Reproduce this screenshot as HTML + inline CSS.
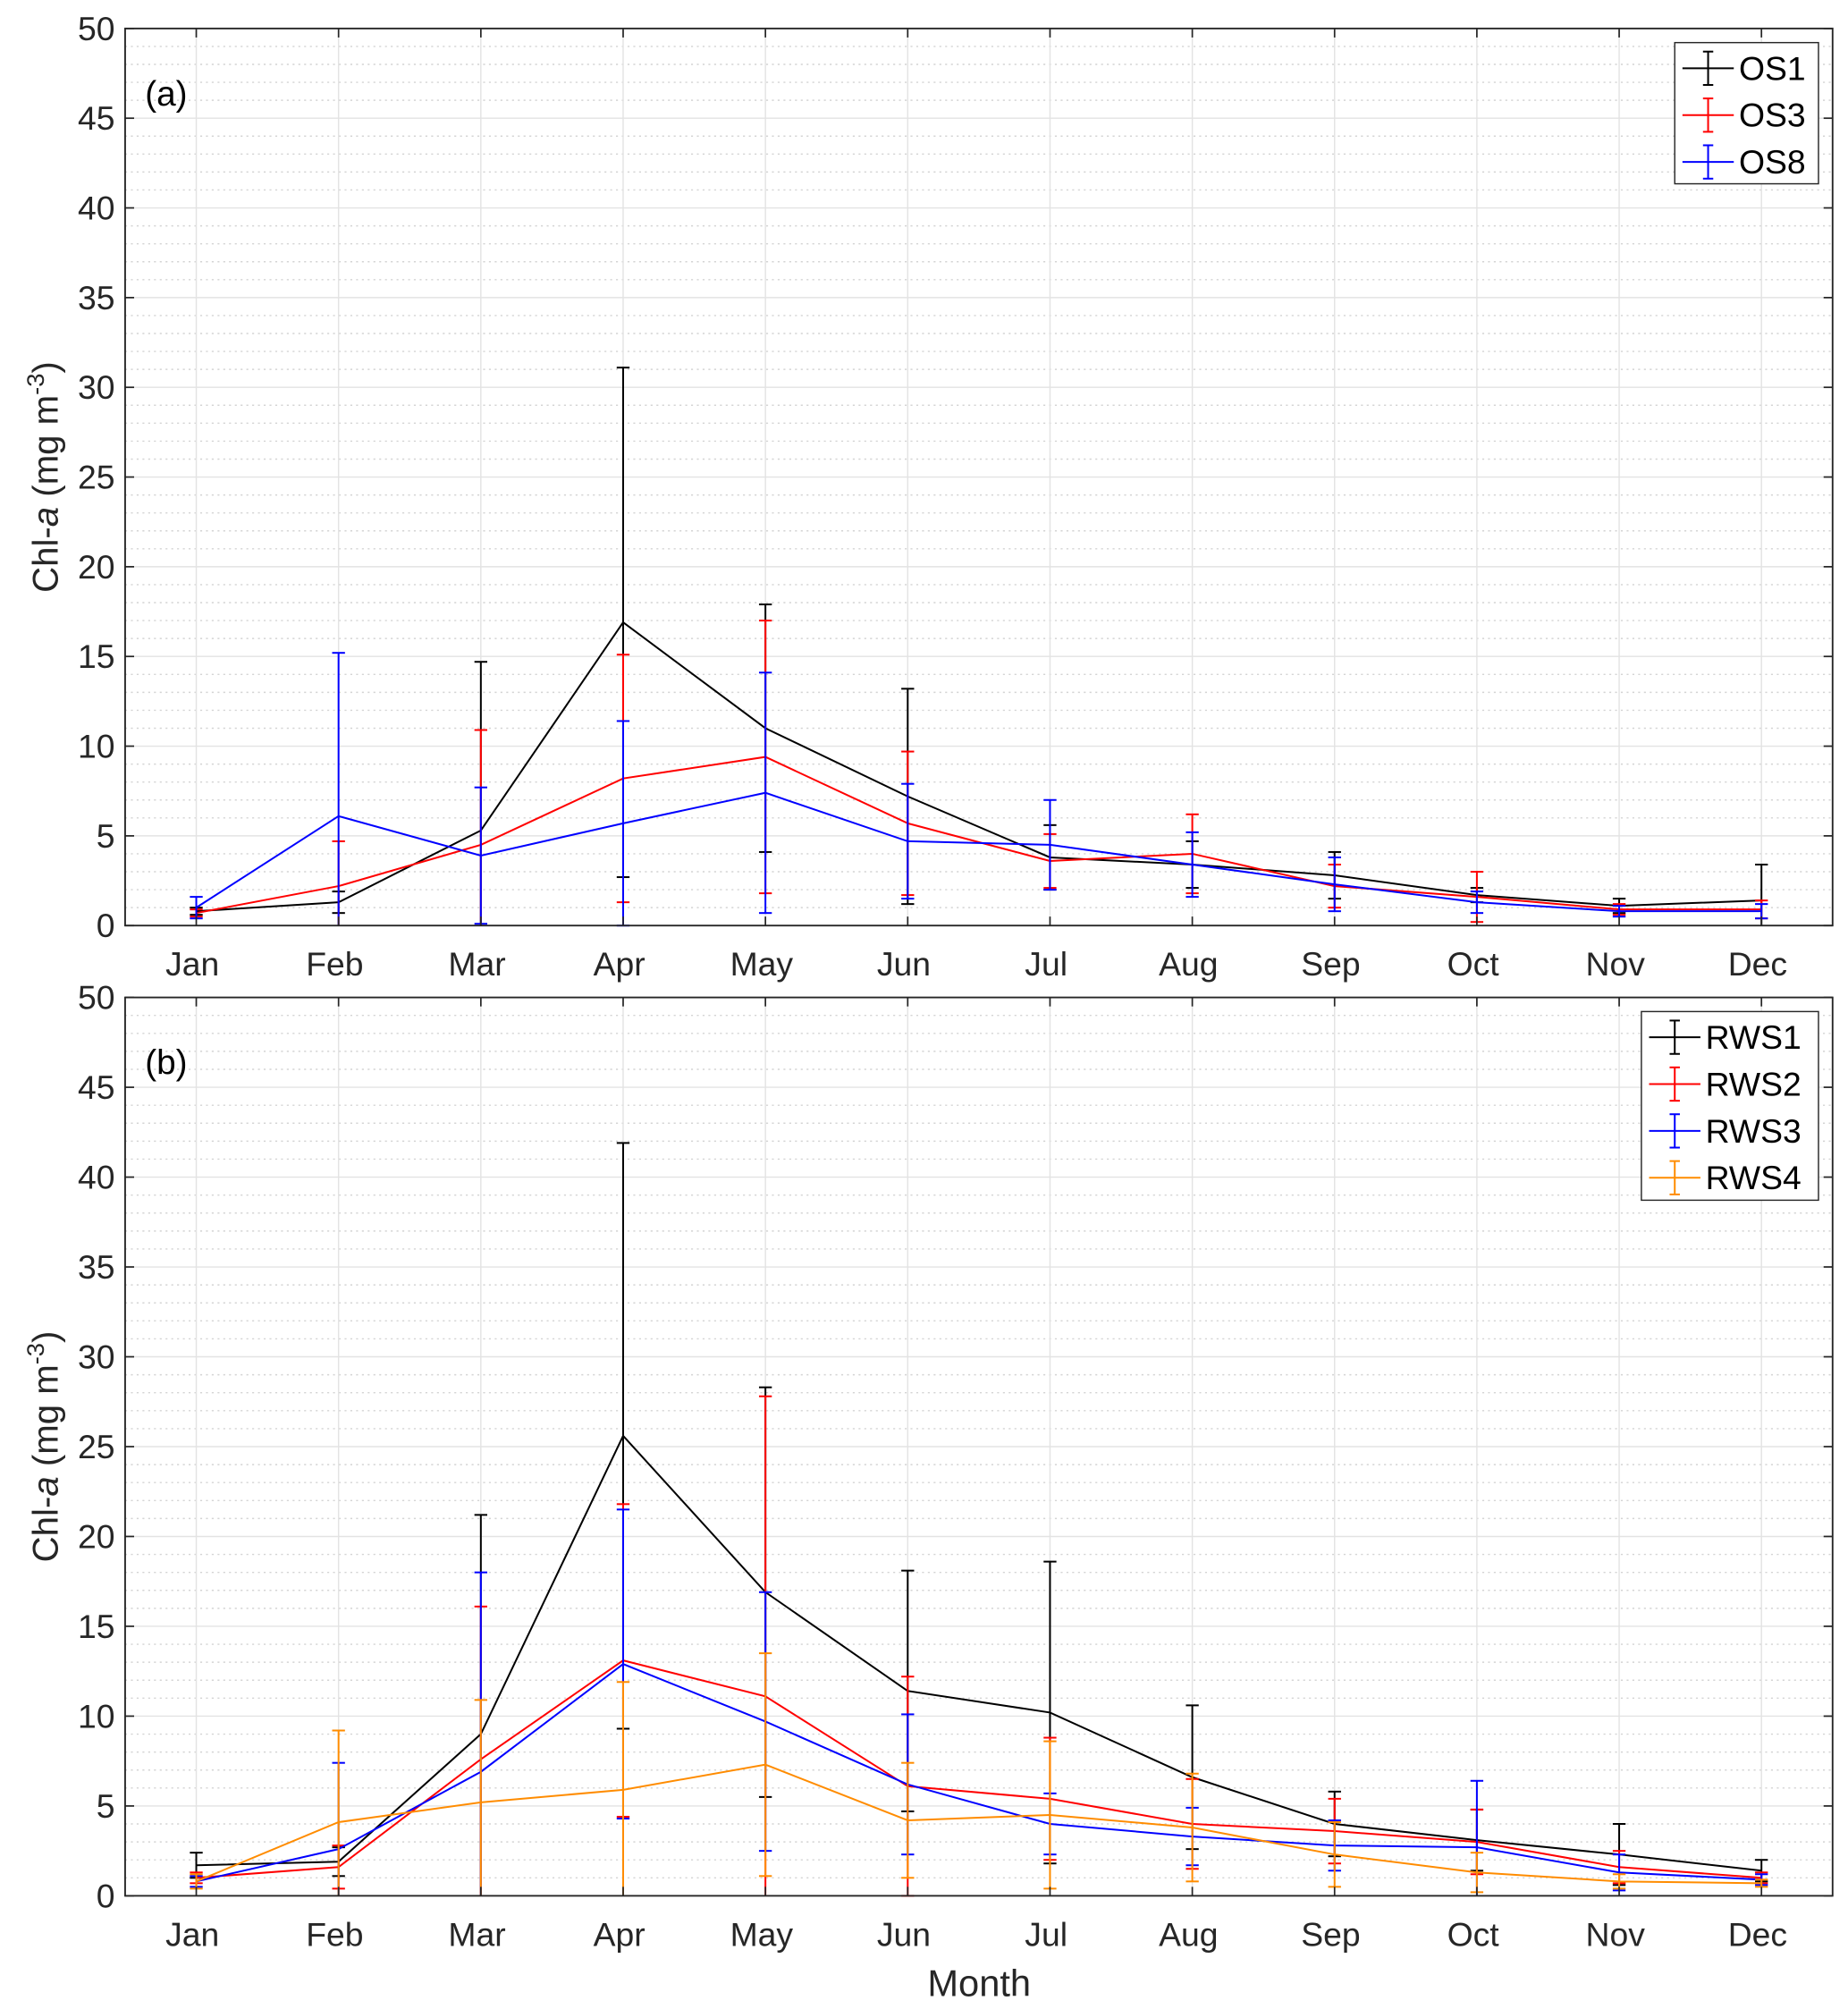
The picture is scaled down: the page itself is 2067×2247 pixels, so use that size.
<!DOCTYPE html>
<html><head><meta charset="utf-8"><style>
html,body{margin:0;padding:0;background:#fff;}
svg{display:block;font-family:"Liberation Sans",Arial,sans-serif;}
</style></head><body>
<svg id="chart" width="2067" height="2247" viewBox="0 0 1440 1565" xmlns="http://www.w3.org/2000/svg"></svg>
<script>
const months = ["Jan","Feb","Mar","Apr","May","Jun","Jul","Aug","Sep","Oct","Nov","Dec"];
const yTicks = [0,5,10,15,20,25,30,35,40,45,50];
// Panel (a)
const os1 = [0.8,1.3,5.3,16.9,11.0,7.2,3.8,3.4,2.8,1.7,1.1,1.4];
const os1Sd = [0.2,0.6,9.4,14.2,6.9,6.0,1.8,1.3,1.3,0.4,0.4,2.0];
const os3 = [0.7,2.2,4.5,8.2,9.4,5.7,3.6,4.0,2.2,1.6,0.9,0.9];
const os3Sd = [0.2,2.5,6.4,6.9,7.6,4.0,1.5,2.2,1.2,1.4,0.3,0.5];
const os8 = [1.0,6.1,3.9,5.7,7.4,4.7,4.5,3.4,2.3,1.3,0.8,0.8];
const os8Sd = [0.6,9.1,3.8,5.7,6.7,3.2,2.5,1.8,1.5,0.6,0.3,0.4];
// Panel (b)
const rws1 = [1.7,1.9,9.0,25.6,16.9,11.4,10.2,6.6,4.0,3.1,2.3,1.4];
const rws1Sd = [0.7,0.8,12.2,16.3,11.4,6.7,8.4,4.0,1.8,1.7,1.7,0.6];
const rws2 = [1.0,1.6,7.6,13.1,11.1,6.1,5.4,4.0,3.6,3.0,1.6,1.0];
const rws2Sd = [0.3,1.2,8.5,8.7,16.7,6.1,3.4,2.5,1.8,1.8,0.9,0.3];
const rws3 = [0.8,2.6,6.9,12.9,9.7,6.2,4.0,3.3,2.8,2.7,1.3,0.9];
const rws3Sd = [0.3,4.8,11.1,8.6,7.2,3.9,1.7,1.6,1.4,3.7,1.0,0.3];
const rws4 = [0.8,4.1,5.2,5.9,7.3,4.2,4.5,3.8,2.3,1.3,0.8,0.7];
const rws4Sd = [0.4,5.1,5.7,6.0,6.2,3.2,4.1,3.0,1.8,1.1,0.4,0.2];

const NS="http://www.w3.org/2000/svg";
const svg=document.getElementById('chart');
function mk(tag,attrs,parent){const e=document.createElementNS(NS,tag);for(const k in attrs)e.setAttribute(k,attrs[k]);(parent||svg).appendChild(e);return e;}

const L=97.5,R=1428;
function xS(i){return L+(i+0.5)*(R-L)/12;}

function panel(top,bottom,label,series,legendBox){
  const g=mk('g',{});
  
  
  const yS=v=>bottom-(v/50)*(bottom-top);
  for(let v=1;v<50;v++){ if(v%5===0)continue;
    mk('line',{x1:L,x2:R,y1:yS(v),y2:yS(v),stroke:'#d4d4d4','stroke-width':1,'stroke-dasharray':'1.5,3'},g);}
  for(const v of yTicks){ mk('line',{x1:L,x2:R,y1:yS(v),y2:yS(v),stroke:'#e3e3e3','stroke-width':1},g);}
  months.forEach((m,i)=>mk('line',{x1:xS(i),x2:xS(i),y1:top,y2:bottom,stroke:'#e3e3e3','stroke-width':1},g));
  series.forEach(s=>{
    const sg=mk('g',{},g);
    
    
    const pts=s.v.map((v,i)=>xS(i)+','+yS(v)).join(' ');
    mk('polyline',{points:pts,fill:'none',stroke:s.c,'stroke-width':1.4},sg);
    s.v.forEach((v,i)=>{
      const hi=Math.min(50,v+s.sd[i]), lo=Math.max(0,v-s.sd[i]);
      const x=xS(i);
      const eb=mk('g',{},sg);
      
      
      mk('line',{x1:x,x2:x,y1:yS(hi),y2:yS(lo),stroke:s.c,'stroke-width':1.4},eb);
      mk('line',{x1:x-5,x2:x+5,y1:yS(hi),y2:yS(hi),stroke:s.c,'stroke-width':1.4},eb);
      if(v-s.sd[i]>=0) mk('line',{x1:x-5,x2:x+5,y1:yS(lo),y2:yS(lo),stroke:s.c,'stroke-width':1.4},eb);
    });
  });
  mk('rect',{x:L,y:top,width:R-L,height:bottom-top,fill:'none',stroke:'#262626','stroke-width':1.3},g);
  for(const v of yTicks){
    mk('line',{x1:L,x2:L+7,y1:yS(v),y2:yS(v),stroke:'#262626','stroke-width':1.2},g);
    mk('line',{x1:R,x2:R-7,y1:yS(v),y2:yS(v),stroke:'#262626','stroke-width':1.2},g);
    const t=mk('text',{x:L-8,y:yS(v)+9,'text-anchor':'end','font-size':26,fill:'#262626'},g);
    t.textContent=v;
    
    
  }
  months.forEach((m,i)=>{
    mk('line',{x1:xS(i),x2:xS(i),y1:bottom,y2:bottom-7,stroke:'#262626','stroke-width':1.2},g);
    mk('line',{x1:xS(i),x2:xS(i),y1:top,y2:top+7,stroke:'#262626','stroke-width':1.2},g);
    const t=mk('text',{x:xS(i)-3,y:bottom+39,'text-anchor':'middle','font-size':26,fill:'#262626'},g);
    t.textContent=m;
    
    
  });
  const pl=mk('text',{x:113,y:top+60,'font-size':27,fill:'#000'},g);
  pl.textContent=label;
  
  
  const cy=(top+bottom)/2;
  const yl=mk('text',{transform:`translate(45,${cy}) rotate(-90)`,'text-anchor':'middle','font-size':28,fill:'#262626'},g);
  yl.innerHTML='Chl-<tspan font-style="italic">a</tspan> (mg m<tspan dy="-11" font-size="19">-3</tspan><tspan dy="11">)</tspan>';
  
  
  const lg=mk('g',{},g);
  
  
  const lb=legendBox;
  mk('rect',{x:lb.x,y:lb.y,width:lb.w,height:lb.h,fill:'#fff',stroke:'#262626','stroke-width':1},lg);
  series.forEach((s,k)=>{
    const ey=lb.y+20+k*36.5;
    const en=mk('g',{},lg);
    
    
    const x0=lb.x+6,x1=lb.x+46,xm=(x0+x1)/2;
    mk('line',{x1:x0,x2:x1,y1:ey,y2:ey,stroke:s.c,'stroke-width':1.4},en);
    mk('line',{x1:xm,x2:xm,y1:ey-13,y2:ey+13,stroke:s.c,'stroke-width':1.4},en);
    mk('line',{x1:xm-4,x2:xm+4,y1:ey-13,y2:ey-13,stroke:s.c,'stroke-width':1.4},en);
    mk('line',{x1:xm-4,x2:xm+4,y1:ey+13,y2:ey+13,stroke:s.c,'stroke-width':1.4},en);
    const t=mk('text',{x:x1+4,y:ey+9,'font-size':26,fill:'#000'},en);
    t.textContent=s.name;
  });
}

panel(22,721,'(a)',[
  {name:'OS1',v:os1,sd:os1Sd,c:'#000000'},
  {name:'OS3',v:os3,sd:os3Sd,c:'#ff0000'},
  {name:'OS8',v:os8,sd:os8Sd,c:'#0000ff'}
],{x:1305,y:33,w:112,h:110});

panel(777,1477,'(b)',[
  {name:'RWS1',v:rws1,sd:rws1Sd,c:'#000000'},
  {name:'RWS2',v:rws2,sd:rws2Sd,c:'#ff0000'},
  {name:'RWS3',v:rws3,sd:rws3Sd,c:'#0000ff'},
  {name:'RWS4',v:rws4,sd:rws4Sd,c:'#ff8c00'}
],{x:1279,y:788,w:138,h:147});

const xt=mk('text',{x:763,y:1555,'text-anchor':'middle','font-size':29,fill:'#262626'});
xt.textContent='Month';


</script>
</body></html>
